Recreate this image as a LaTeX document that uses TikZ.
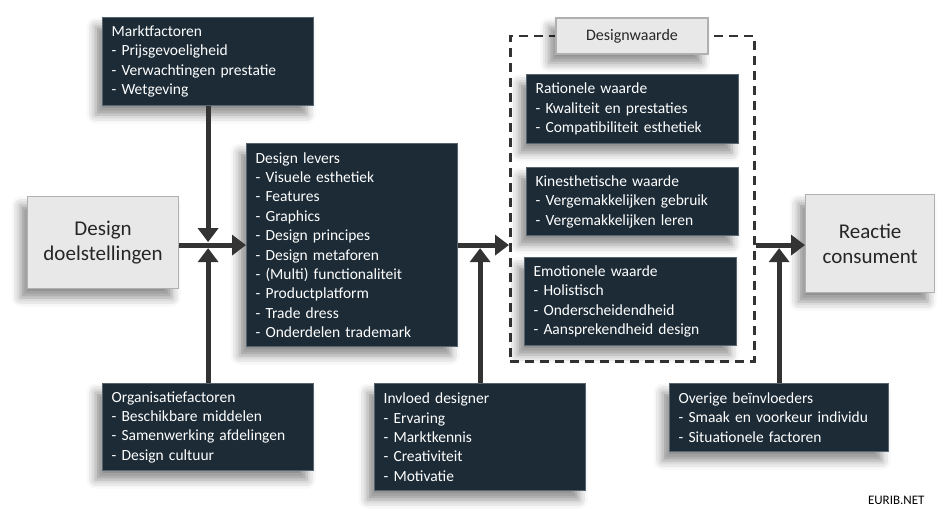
\documentclass[tikz,border=0pt]{standalone}
\usepackage{fontspec}
\setmainfont{Carlito}
\usetikzlibrary{arrows.meta,shadows.blur}
\definecolor{boxnavy}{HTML}{1C2B36}
\definecolor{boxedge}{HTML}{56656F}
\definecolor{boxlight}{HTML}{E8E8E8}
\definecolor{lightedge}{HTML}{B0B0B0}
\definecolor{linegray}{HTML}{333333}
\begin{document}
\begin{tikzpicture}[x=1pt,y=-1pt]
\tikzset{infobox/.style={shape=rectangle, anchor=north west, draw=boxedge, line width=1.2pt, fill=boxnavy, text=white, align=left, inner xsep=9pt, inner ysep=0pt, font=\fontsize{15.5}{19.4}\selectfont, blur shadow={shadow xshift=-7pt, shadow yshift=-9pt, shadow blur radius=9pt, shadow opacity=45}}}
\tikzset{lightbox/.style={shape=rectangle, anchor=north west, draw=lightedge, line width=1.2pt, fill=boxlight, text=black!85, align=center, font=\fontsize{21}{25}\selectfont, blur shadow={shadow xshift=-7pt, shadow yshift=-9pt, shadow blur radius=9pt, shadow opacity=45}}}
\tikzset{conn/.style={draw=linegray, line width=5pt, -{Triangle[width=20pt,length=14pt]}}}
\useasboundingbox (0,0) rectangle (949,518);
% start and end
\node (doel) [lightbox, minimum width=151pt, minimum height=92pt] at (27,196) {Design\\doelstellingen};
\node (reac) [lightbox, minimum width=129pt, minimum height=98pt] at (805,194) {Reactie\\consument};
% factors
\node (markt) [infobox, text width=193pt, minimum height=88pt] at (102,17) {Marktfactoren\\- Prijsgevoeligheid\\- Verwachtingen prestatie\\- Wetgeving};
\node (orga) [infobox, text width=193pt, minimum height=87pt] at (102,383) {Organisatiefactoren\\- Beschikbare middelen\\- Samenwerking  afdelingen\\- Design cultuur};
\node (invl) [infobox, text width=193pt, minimum height=107pt] at (374,383) {Invloed designer\\- Ervaring\\- Marktkennis\\- Creativiteit\\- Motivatie};
\node (over) [infobox, text width=201pt, minimum height=68pt] at (669,383) {Overige beïnvloeders\\- Smaak en voorkeur  individu\\- Situationele factoren};
% levers
\node (levers) [infobox, text width=193pt, minimum height=203pt] at (246,143) {Design levers\\- Visuele esthetiek\\- Features\\- Graphics\\- Design principes\\- Design metaforen\\- (Multi) functionaliteit\\- Productplatform\\- Trade dress\\- Onderdelen  trademark};
% design value
\node (frame) [draw=linegray, line width=2.5pt, dash pattern=on 9pt off 6pt, minimum width=244pt, minimum height=325pt, anchor=north west] at (509,35) {};
\node (dwlabel) [lightbox, font=\fontsize{16}{18}\selectfont, minimum width=152pt, minimum height=36pt, anchor=center] at (632,36) {Designwaarde};
\node (ratio) [infobox, text width=194pt, minimum height=69pt] at (526,74) {Rationele waarde\\- Kwaliteit en prestaties\\- Compatibiliteit esthetiek};
\node (kine) [infobox, text width=194pt, minimum height=68pt] at (526,167) {Kinesthetische waarde\\- Vergemakkelijken gebruik\\- Vergemakkelijken leren};
\node (emo) [infobox, text width=194pt, minimum height=88pt] at (524,257) {Emotionele waarde\\- Holistisch\\- Onderscheidendheid\\- Aansprekendheid  design};
\node (src) [anchor=east, font=\fontsize{13}{15}\selectfont] at (928,500) {EURIB.NET};
% junctions
\coordinate (jm) at (markt.south |- levers.west);
\coordinate (jo) at (orga.north |- levers.west);
\coordinate (ji) at (invl.north |- levers.east);
\coordinate (jr) at (over.north |- levers.east);
% connectors
\draw[conn] (doel.east |- levers.west) -- (levers.west);
\draw[conn] (markt.south) -- ([yshift=3pt]jm);
\draw[conn] (orga.north) -- ([yshift=-3pt]jo);
\draw[conn] (levers.east) -- (frame.west |- levers.east);
\draw[conn] (invl.north) -- ([yshift=-3pt]ji);
\draw[conn] (frame.east |- levers.east) -- (reac.west |- levers.east);
\draw[conn] (over.north) -- ([yshift=-3pt]jr);
\end{tikzpicture}
\end{document}
